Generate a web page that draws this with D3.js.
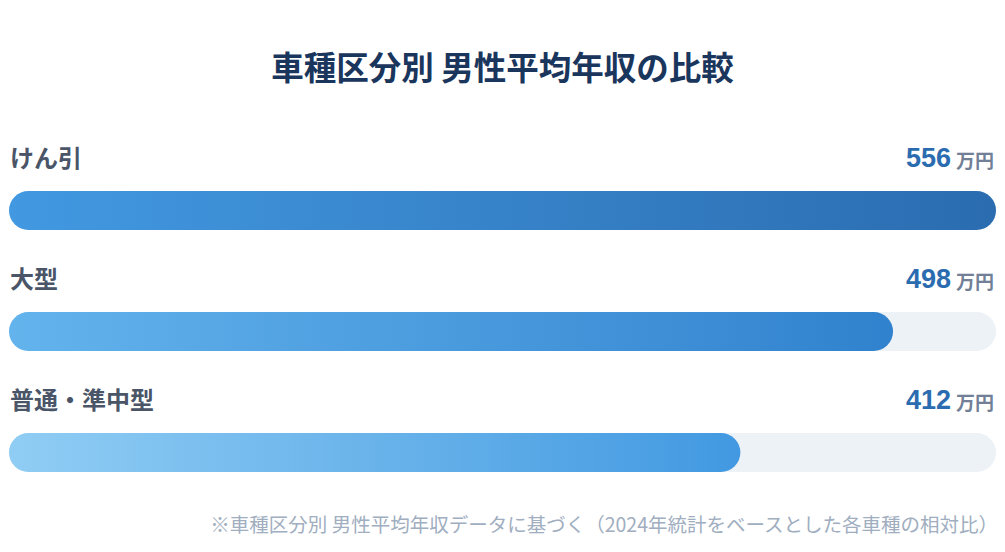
<!DOCTYPE html>
<html>
<head>
<meta charset="utf-8">
<script src="https://cdn.jsdelivr.net/npm/d3@7"></script>
<style>
  body { margin: 0; background: #fff; }
  svg { display: block; font-family: "Noto Sans CJK JP", "Noto Sans", sans-serif; }
</style>
</head>
<body>
<svg id="chart"></svg>
<script>
var categories = ['けん引', '大型', '普通・準中型'];
var salaries = [556, 498, 412];
var gradStops = [['#4299e1', '#2b6cb0'], ['#63b3ed', '#3182ce'], ['#90cdf4', '#4299e1']];

var width = 1005, height = 552;
var left = 9, right = 996;
var barH = 39;

var svg = d3.select('#chart').attr('width', width).attr('height', height);

// gradients for each bar
var defs = svg.append('defs');
gradStops.forEach(function(g, i) {
    var lg = defs.append('linearGradient').attr('id', 'grad' + i)
        .attr('x1', '0%').attr('x2', '100%').attr('y1', '0%').attr('y2', '0%');
    lg.append('stop').attr('offset', '0%').attr('stop-color', g[0]);
    lg.append('stop').attr('offset', '100%').attr('stop-color', g[1]);
});

var x = d3.scaleLinear().domain([0, d3.max(salaries)]).range([left, right]);
var y = d3.scaleBand().domain(categories).range([191, 191 + 121 * 3]).paddingInner(0).paddingOuter(0);

svg.append('text')
    .attr('x', width / 2).attr('y', 80)
    .attr('text-anchor', 'middle')
    .attr('font-size', 32.5).attr('font-weight', 700)
    .attr('fill', '#1a365d')
    .text('車種区分別 男性平均年収の比較');

var rows = svg.selectAll('g.row')
    .data(categories.map(function(c, i) { return {cat: c, val: salaries[i], i: i}; }))
    .enter().append('g').attr('class', 'row');

// background track
rows.append('rect')
    .attr('x', left).attr('y', d => y(d.cat))
    .attr('width', right - left).attr('height', barH)
    .attr('rx', barH / 2)
    .attr('fill', '#edf2f7');

rows.append('rect')
    .attr('x', left).attr('y', d => y(d.cat))
    .attr('width', d => x(d.val) - left).attr('height', barH)
    .attr('rx', barH / 2)
    .attr('fill', d => 'url(#grad' + d.i + ')');

rows.append('text')
    .attr('x', left + 1).attr('y', d => y(d.cat) - 24)
    .attr('font-size', 24).attr('font-weight', 700)
    .attr('fill', '#4a5568')
    .text(d => d.cat);

var val = rows.append('text')
    .attr('x', right - 2).attr('y', d => y(d.cat) - 24)
    .attr('text-anchor', 'end');
val.append('tspan')
    .attr('font-size', 27).attr('font-weight', 700)
    .attr('fill', '#2b6cb0')
    .attr('font-family', '"Liberation Sans", Arial, sans-serif')
    .text(d => d.val);
val.append('tspan')
    .attr('dx', 5).attr('dy', 1)
    .attr('font-size', 19).attr('font-weight', 700)
    .attr('fill', '#718096')
    .text('万円');

svg.append('text')
    .attr('x', right + 2).attr('y', 532)
    .attr('text-anchor', 'end')
    .attr('font-size', 19.5)
    .attr('fill', '#a0aec0')
    .text('※車種区分別 男性平均年収データに基づく（2024年統計をベースとした各車種の相対比）');
</script>
</body>
</html>
